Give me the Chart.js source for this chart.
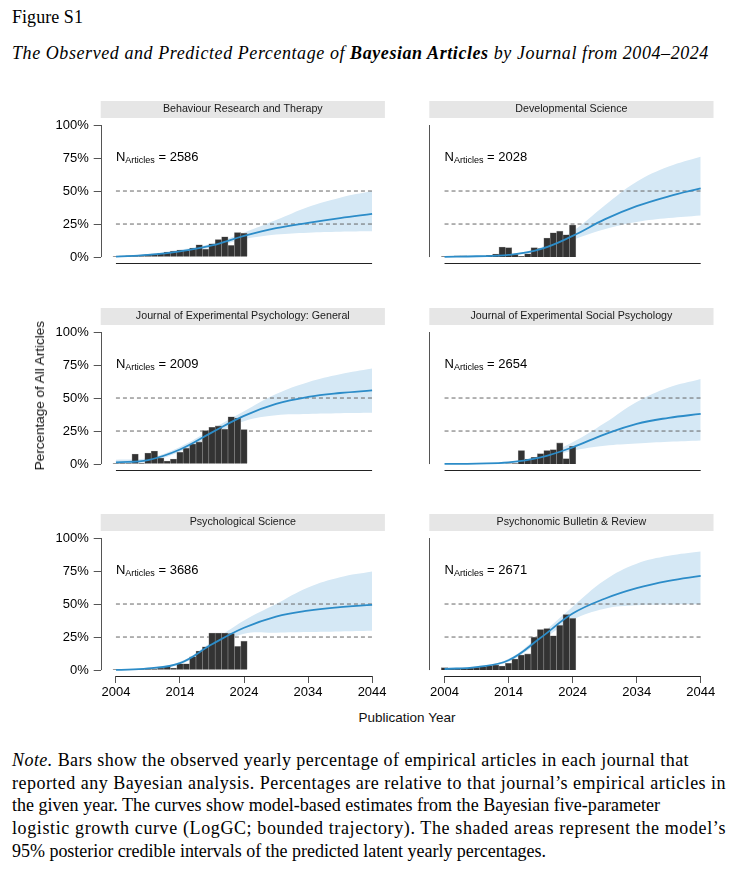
<!DOCTYPE html>
<html>
<head>
<meta charset="utf-8">
<script src="https://cdn.jsdelivr.net/npm/chart.js@4.4.1/dist/chart.umd.min.js"></script>
<style>
  body { margin: 0; background: #fff; width: 740px; height: 876px; position: relative; overflow: hidden; }
  canvas { position: absolute; }
  .serif { position: absolute; font-family: "Liberation Serif", "Times New Roman", serif; color: #000; white-space: nowrap; }
  #fig { left: 12px; top: 7px; font-size: 18px; }
  #title { left: 12px; top: 43px; font-size: 18px; font-style: italic; }
  #note { left: 12px; top: 749px; font-size: 18px; line-height: 22.7px; }
  .sans { position: absolute; font-family: "Liberation Sans", Arial, sans-serif; font-size: 13.5px; font-weight: normal; color: #111; white-space: nowrap; }
  #ytitle { left: 32px; top: 321px; writing-mode: vertical-rl; transform: rotate(180deg); line-height: 15px; }
  #xtitle { left: 407px; top: 717px; transform: translate(-50%, -50%); }
</style>
</head>
<body>
<div id="fig" class="serif fit" data-w="71">Figure S1</div>
<div id="title" class="serif fit" data-w="697">The Observed and Predicted Percentage of <b>Bayesian Articles</b> by Journal from 2004–2024</div>

<canvas id="c0" width="355" height="198" style="left:40px;top:95px"></canvas>
<canvas id="c1" width="305" height="198" style="left:420px;top:95px"></canvas>
<canvas id="c2" width="355" height="198" style="left:40px;top:301.5px"></canvas>
<canvas id="c3" width="305" height="198" style="left:420px;top:301.5px"></canvas>
<canvas id="c4" width="355" height="198" style="left:40px;top:508px"></canvas>
<canvas id="c5" width="305" height="198" style="left:420px;top:508px"></canvas>

<div id="ytitle" class="sans">Percentage of All Articles</div>
<div id="xtitle" class="sans">Publication Year</div>

<div id="note" class="serif">
  <div class="fit" data-w="677"><i>Note.</i> Bars show the observed yearly percentage of empirical articles in each journal that</div>
  <div class="fit" data-w="714">reported any Bayesian analysis. Percentages are relative to that journal’s empirical articles in</div>
  <div class="fit" data-w="648">the given year. The curves show model-based estimates from the Bayesian five-parameter</div>
  <div class="fit" data-w="714">logistic growth curve (LogGC; bounded trajectory). The shaded areas represent the model’s</div>
  <div class="fit" data-w="534">95% posterior credible intervals of the predicted latent yearly percentages.</div>
</div>

<script>
/* Data */
var journals = ["Behaviour Research and Therapy", "Developmental Science",
  "Journal of Experimental Psychology: General", "Journal of Experimental Social Psychology",
  "Psychological Science", "Psychonomic Bulletin & Review"];
var nArticles = [2586, 2028, 2009, 2654, 3686, 2671];

var years = [2004, 2005, 2006, 2007, 2008, 2009, 2010, 2011, 2012, 2013, 2014,
  2015, 2016, 2017, 2018, 2019, 2020, 2021, 2022, 2023, 2024];

var obsBRT = [0.5, 0.8, 1.0, 1.2, 1.5, 1.8, 2.3, 2.8, 3.8, 4.5, 5.3, 4.8, 6.8, 9.3, 6.0, 10.0, 13.3, 15.4, 8.8, 18.6, 18.1];
var obsDS = [0.3, 0.3, 1.0, 1.0, 0.5, 0.5, 0.8, 1.3, 2.3, 7.6, 7.1, 2.0, 0.5, 2.5, 7.1, 6.5, 14.4, 18.4, 19.6, 16.9, 24.2];
var obsJEPG = [0.5, 0.5, 0.5, 7.6, 0.8, 8.4, 9.9, 4.6, 2.3, 3.8, 8.9, 11.9, 15.2, 16.8, 25.4, 27.9, 28.9, 26.4, 35.8, 34.8, 26.1];
var obsJESP = [0, 0, 0, 0, 0, 0, 0, 0, 0, 0, 0.2, 0.3, 10.2, 3.8, 5.1, 7.9, 10.2, 10.9, 16.0, 4.1, 13.5];
var obsPS = [0.3, 0.3, 0.3, 0.5, 0.5, 0.8, 1.0, 1.5, 2.8, 1.5, 4.8, 4.8, 10.1, 14.4, 17.6, 28.0, 28.0, 28.0, 27.7, 17.9, 21.9];
var obsPBR = [1.8, 0.8, 0.8, 1.5, 1.5, 2.0, 2.5, 3.3, 3.8, 3.0, 5.1, 8.4, 11.4, 12.2, 24.9, 30.7, 31.5, 25.9, 33.8, 42.1, 39.1];

/* model curve, read every 5 years */
var curveYears = [2004, 2009, 2014, 2019, 2024, 2029, 2034, 2039, 2044];

var fitBRT = [0.3, 1.6, 4.3, 8.8, 16.0, 21.9, 25.9, 29.5, 32.7];
var loBRT = [0.0, 1.0, 3.3, 7.5, 13.5, 17.0, 18.5, 19.2, 19.5];
var hiBRT = [0.8, 2.3, 5.5, 10.3, 18.5, 28.0, 38.0, 45.0, 50.0];

var fitDS = [0.2, 0.6, 1.6, 6.0, 16.0, 28.5, 38.5, 46.0, 52.0];
var loDS = [0.0, 0.3, 1.1, 4.8, 13.0, 21.0, 26.5, 29.5, 31.5];
var hiDS = [0.5, 1.0, 2.2, 7.3, 19.5, 39.0, 57.0, 68.5, 76.0];

var fitJEPG = [1.3, 3.0, 11.0, 24.0, 36.5, 45.5, 50.8, 53.8, 55.8];
var loJEPG = [0.3, 1.8, 9.3, 21.5, 32.5, 37.0, 38.0, 38.5, 38.8];
var hiJEPG = [3.3, 4.5, 13.0, 26.5, 40.0, 53.0, 62.0, 68.0, 72.3];

var fitJESP = [0.1, 0.4, 1.2, 5.0, 12.7, 22.5, 30.5, 35.0, 38.0];
var loJESP = [0.0, 0.2, 0.8, 3.8, 10.0, 13.8, 15.5, 16.8, 17.8];
var hiJESP = [0.3, 0.6, 1.7, 6.5, 16.5, 31.0, 47.0, 58.0, 64.5];

var fitPS = [0.1, 1.2, 5.3, 19.5, 32.0, 40.5, 45.0, 47.6, 49.3];
var loPS = [0.0, 0.8, 4.3, 17.0, 27.5, 28.3, 28.8, 29.2, 29.7];
var hiPS = [0.2, 1.6, 6.3, 21.5, 37.5, 50.0, 62.5, 70.3, 74.6];

var fitPBR = [0.8, 2.3, 7.4, 24.4, 42.8, 54.0, 62.0, 67.5, 71.3];
var loPBR = [0.5, 1.8, 6.3, 22.0, 38.0, 46.5, 49.0, 49.6, 49.8];
var hiPBR = [1.2, 2.8, 8.6, 27.0, 48.0, 68.0, 80.5, 86.5, 89.8];

var xTicks = [2004, 2014, 2024, 2034, 2044];
var yTicks = [0, 25, 50, 75, 100];
var refLevels = [25, 50];

var observed = [obsBRT, obsDS, obsJEPG, obsJESP, obsPS, obsPBR];
var fits = [fitBRT, fitDS, fitJEPG, fitJESP, fitPS, fitPBR];
var lows = [loBRT, loDS, loJEPG, loJESP, loPS, loPBR];
var highs = [hiBRT, hiDS, hiJEPG, hiJESP, hiPS, hiPBR];

/* Styles */
var SANS = '"Liberation Sans", Arial, sans-serif';
var BLUE = "#2c8cc8";
var BAND = "#d5e8f5";
var SMOOTH = 0.4;

Chart.defaults.font.family = SANS;
Chart.defaults.color = "#000";

function pts(xs, ys) {
	return xs.map(function(v, i) {
		return { x: v, y: ys[i] };
	});
}

// strip header, R-style axis lines and the N label
var rStyle = {
	id: "rStyle",
	beforeDraw: function(chart, args, o) {
		var ctx = chart.ctx, a = chart.chartArea;
		ctx.save();
		ctx.fillStyle = "#e6e6e6";
		ctx.fillRect(a.left, a.top - 24, a.right - a.left, 17);
		ctx.fillStyle = "#1a1a1a";
		ctx.font = "10.7px " + SANS;
		ctx.textAlign = "center";
		ctx.textBaseline = "middle";
		ctx.fillText(o.strip, (a.left + a.right) / 2, a.top - 15.5);
		ctx.restore();
	},
	afterDraw: function(chart, args, o) {
		var ctx = chart.ctx, a = chart.chartArea;
		var x = chart.scales.x, y = chart.scales.y;
		ctx.save();
		ctx.lineWidth = 1;
		ctx.strokeStyle = "#555";
		ctx.beginPath();
		ctx.moveTo(Math.round(a.left) + 0.5, y.getPixelForValue(yTicks[0]));
		ctx.lineTo(Math.round(a.left) + 0.5, y.getPixelForValue(yTicks[yTicks.length - 1]));
		ctx.stroke();
		ctx.strokeStyle = "#222";
		ctx.beginPath();
		ctx.moveTo(x.getPixelForValue(xTicks[0]), Math.round(a.bottom) + 0.5);
		ctx.lineTo(x.getPixelForValue(xTicks[xTicks.length - 1]), Math.round(a.bottom) + 0.5);
		ctx.stroke();

		var px = x.getPixelForValue(2004), py = y.getPixelForValue(72.4);
		ctx.fillStyle = "#000";
		ctx.textAlign = "left";
		ctx.textBaseline = "alphabetic";
		ctx.font = "13px " + SANS;
		ctx.fillText("N", px, py);
		var w = ctx.measureText("N").width;
		ctx.font = "9px " + SANS;
		ctx.fillText("Articles", px + w, py + 2);
		w += ctx.measureText("Articles").width;
		ctx.font = "13px " + SANS;
		ctx.fillText(" = " + o.n, px + w, py);
		ctx.restore();
	}
};

function makePanel(i) {
	var left = i % 2 === 0;
	var bottom = i >= 4;
	var sets = [
		{ type: "line", data: pts(curveYears, lows[i]), borderColor: "rgba(0,0,0,0)", pointRadius: 0,
			fill: false, tension: SMOOTH, order: 5 },
		{ type: "line", data: pts(curveYears, highs[i]), borderColor: "rgba(0,0,0,0)", pointRadius: 0,
			fill: "-1", backgroundColor: BAND, tension: SMOOTH, order: 5 }
	];
	refLevels.forEach(function(lv) {
		sets.push({ type: "line", data: [{ x: xTicks[0], y: lv }, { x: xTicks[xTicks.length - 1], y: lv }],
			borderColor: "#666", borderWidth: 1, borderDash: [4, 3], pointRadius: 0, fill: false, order: 4 });
	});
	sets.push({ type: "bar", data: pts(years, observed[i]), backgroundColor: "#333333",
		borderColor: "#8f8f8f", borderWidth: 0.6, barPercentage: 1, categoryPercentage: 1, order: 2 });
	sets.push({ type: "line", data: pts(curveYears, fits[i]), borderColor: BLUE, borderWidth: 1.8,
		pointRadius: 0, fill: false, tension: SMOOTH, order: 1 });

	new Chart(document.getElementById("c" + i), {
		type: "bar",
		data: { datasets: sets },
		plugins: [rStyle],
		options: {
			responsive: false,
			animation: false,
			layout: { padding: { top: 30, right: left ? 10.1 : 11.5, bottom: 0, left: 0 } },
			plugins: {
				legend: { display: false },
				tooltip: { enabled: false },
				rStyle: { strip: journals[i], n: nArticles[i] }
			},
			scales: {
				x: {
					type: "linear", min: 2001.62, max: 2046, offset: false,
					afterBuildTicks: function(s) { s.ticks = xTicks.map(function(v) { return { value: v }; }); },
					afterFit: function(s) { s.height = 30; },
					border: { display: false },
					grid: { display: bottom, drawOnChartArea: false, drawTicks: bottom, tickLength: 7, color: "#555", offset: false },
					ticks: { display: bottom, padding: 2, font: { size: 13 }, color: "#000", maxRotation: 0, autoSkip: false,
						callback: function(v) { return String(v); } }
				},
				y: {
					type: "linear", min: -4.5, max: 100,
					afterBuildTicks: function(s) { s.ticks = yTicks.map(function(v) { return { value: v }; }); },
					afterFit: function(s) { s.width = left ? 60.7 : 9.3; },
					border: { display: false },
					grid: { display: left, drawOnChartArea: false, drawTicks: left, tickLength: 7, color: "#555" },
					ticks: { display: left, padding: 5, font: { size: 13 }, color: "#000",
						callback: function(v) { return v + "%"; } }
				}
			}
		}
	});
}

for (var i = 0; i < 6; i++) makePanel(i);

// stretch the serif text lines to the widths they have in the figure
document.querySelectorAll(".fit").forEach(function(el) {
	el.style.display = "inline-block";
	var natural = el.getBoundingClientRect().width;
	var chars = el.textContent.trim().length;
	var target = parseFloat(el.dataset.w);
	el.style.letterSpacing = ((target - natural) / chars).toFixed(3) + "px";
	el.style.display = el.parentNode.id === "note" ? "block" : "";
});
</script>
</body>
</html>
